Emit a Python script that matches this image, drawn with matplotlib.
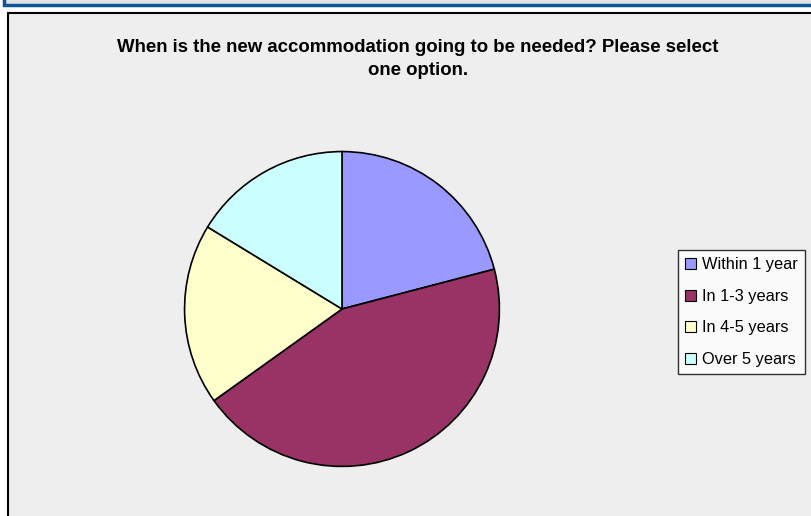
import matplotlib.pyplot as plt
from matplotlib.patches import Rectangle

# survey answers (counts per option)
labels = ['Within 1 year', 'In 1-3 years', 'In 4-5 years', 'Over 5 years']
counts = [9, 19, 8, 7]
colors = ['#9999FF', '#993366', '#FFFFCC', '#CCFFFF']

title = "When is the new accommodation going to be needed? Please select\none option."

W, H = 811, 516
fig = plt.figure(figsize=(W / 100, H / 100), dpi=100)
fig.patch.set_facecolor('white')
plt.rcParams['font.family'] = ['Liberation Sans', 'DejaVu Sans']

def px(x, y):
    # pixel coords (top-left origin) -> figure fraction
    return x / W, 1 - y / H

# blue strip across the top
fig.patches.append(Rectangle(px(4, 5), (W + 10) / W, 20 / H, transform=fig.transFigure,
                             facecolor='#E4E4E4', edgecolor='#0E5597', linewidth=2.5,
                             zorder=-2))
# chart area with black frame
fig.patches.append(Rectangle(px(8, 530), (W + 10) / W, 517 / H, transform=fig.transFigure,
                             facecolor='#EEEEEE', edgecolor='black', linewidth=1.5,
                             zorder=-1))

cx, cy, r = 342, 309, 159
left, top = px(cx - r, cy - r)
ax = fig.add_axes([left, top - 2 * r / H, 2 * r / W, 2 * r / H])
ax.set_zorder(2)
wedges, _ = ax.pie(counts, colors=colors, startangle=90, counterclock=False,
                   radius=1, wedgeprops=dict(edgecolor='black', linewidth=1.2))
ax.set_xlim(-1.01, 1.01)
ax.set_ylim(-1.01, 1.01)
ax.set_aspect('auto')
ax.axis('off')

fig.text(418 / W, 1 - 59 / H, title, ha='center', va='center', fontsize=13.4,
         fontweight='bold', linespacing=1.45)

leg = fig.legend(wedges, labels, loc='upper left', bbox_to_anchor=px(678, 250),
                 fontsize=11.8, frameon=True, fancybox=False, edgecolor='black',
                 facecolor='white', handlelength=0.65, handleheight=0.65,
                 handletextpad=0.35, labelspacing=1.01, borderpad=0.45,
                 borderaxespad=0)
leg.set_zorder(3)
leg.get_frame().set_linewidth(1.0)
for h in leg.legend_handles:
    h.set_linewidth(0.8)

fig.savefig('out.png', dpi=100)
